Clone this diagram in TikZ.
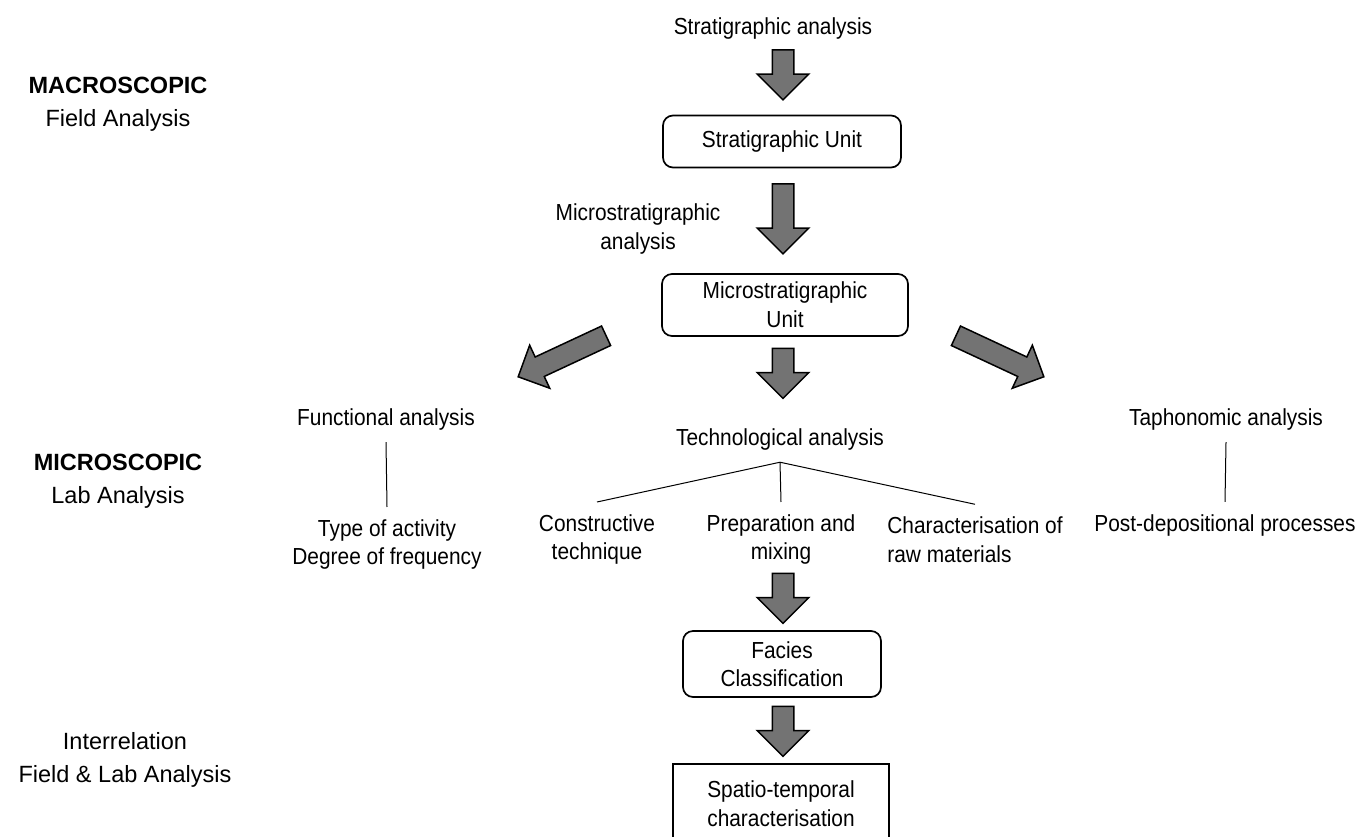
\documentclass[tikz,border=0pt]{standalone}
\usepackage{fontspec}
\setmainfont{Liberation Sans}
\newfontfamily\narrowfont[FakeStretch=0.9]{Liberation Sans}
\usepackage{tikz}
\usetikzlibrary{shapes.arrows,positioning}
\tikzset{
  flow-text/.style={font=\narrowfont\fontsize{11.6}{14.3}\selectfont, align=center, inner xsep=2pt, inner ysep=6pt},
  flow-box/.style={flow-text, draw=black, line width=0.85pt, rounded corners=5pt, inner ysep=3pt},
  flow-arrow/.style={single arrow, draw=black, fill=black!55, line width=0.75pt,
    inner xsep=0pt, inner ysep=5pt, single arrow head extend=7.5pt, minimum height=25pt},
  level-label/.style={font=\fontsize{11.75}{16.5}\selectfont, align=center},
  tree-line/.style={draw=black, line width=0.5pt}
}
\begin{document}
\begin{tikzpicture}[x=0.5pt, y=-0.5pt]
  \clip (0,0) rectangle (1359,836);
  % Level labels on the left
  \node[level-label] (macro) at (118,104.5) {\textbf{MACROSCOPIC}\\Field Analysis};
  \node[level-label] (micro) at (118,481.5) {\textbf{MICROSCOPIC}\\Lab Analysis};
  \node[level-label] (inter) at (125,759.5) {Interrelation\\Field \& Lab Analysis};

  % --- Field analysis ---
  \node[flow-text] (stratan) at (773,28) {Stratigraphic analysis};
  \node[flow-arrow, rotate=-90] (arr1) at (783,69.5) {};
  \node[flow-box, minimum width=119pt, minimum height=26pt] (su) at (782,141.5) {Stratigraphic Unit};
  \node[flow-text] (microan) at (638,229) {Microstratigraphic\\analysis};
  \node[flow-arrow, minimum height=35pt, rotate=-90] (arr2) at (783,213.5) {};
  \node[flow-box, minimum width=123pt, minimum height=31pt] (mu) at (785,305) {Microstratigraphic\\Unit};

  % --- Three branches out of the unit ---
  \node[flow-arrow, minimum height=48.5pt, single arrow head extend=6.5pt, rotate=205] (arrl) at (567,354) {};
  \node[flow-arrow, rotate=-90] (arrc) at (783,368) {};
  \node[flow-arrow, minimum height=48.5pt, single arrow head extend=6.5pt, rotate=-25] (arrr) at (995,354) {};

  \node[flow-text] (func) at (386,419) {Functional analysis};
  \node[flow-text] (tech) at (780,439) {Technological analysis};
  \node[flow-text] (taph) at (1226,419) {Taphonomic analysis};

  % Functional branch
  \node[flow-text] (activity) at (387,544.5) {Type of activity\\Degree of frequency};
  \draw[tree-line] (func.south) -- (activity.north);

  % Technological branch
  \node[flow-text] (constr) at (597,539.5) {Constructive\\technique};
  \node[flow-text] (prep) at (781,539.5) {Preparation and\\mixing};
  \node[flow-text, align=left, anchor=west] (rawmat) at (883,539.5) {Characterisation of\\raw materials};
  \draw[tree-line] (tech.south) -- (constr.north);
  \draw[tree-line] (tech.south) -- (prep.north);
  \draw[tree-line] (tech.south) -- (rawmat.north);

  % Taphonomic branch
  \node[flow-text] (postdep) at (1225,525) {Post-depositional processes};
  \draw[tree-line] (taph.south) -- (postdep.north);

  % --- Interrelation ---
  \node[flow-arrow, rotate=-90] (arr4) at (783,593) {};
  \node[flow-box, minimum width=99pt, minimum height=33pt] (facies) at (782,664) {Facies\\Classification};
  \node[flow-arrow, rotate=-90] (arr5) at (783,726) {};
  \node[flow-box, rounded corners=0pt, minimum width=108pt, minimum height=39.5pt] (spatio) at (781,803.5) {Spatio-temporal\\characterisation};
\end{tikzpicture}
\end{document}
